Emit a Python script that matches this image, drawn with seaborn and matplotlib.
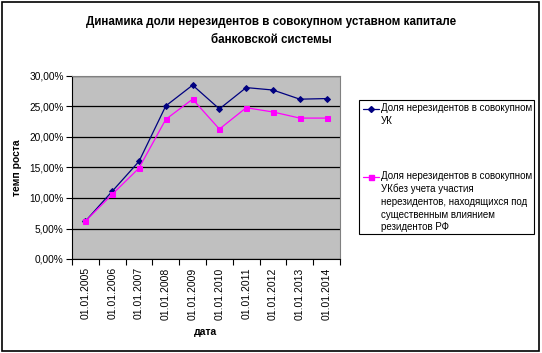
import numpy as np
import pandas as pd
import seaborn as sns
import matplotlib.pyplot as plt
from matplotlib.lines import Line2D
from matplotlib.ticker import FuncFormatter, FixedLocator

dates = ["01.01.2005", "01.01.2006", "01.01.2007", "01.01.2008", "01.01.2009",
         "01.01.2010", "01.01.2011", "01.01.2012", "01.01.2013", "01.01.2014"]
share_total = [6.2, 11.1, 16.0, 25.1, 28.5, 24.6, 28.1, 27.7, 26.2, 26.3]
share_excl = [6.2, 10.6, 14.9, 22.9, 26.2, 21.3, 24.8, 24.1, 23.1, 23.1]

label_total = "Доля нерезидентов в совокупном\nУК"
label_excl = ("Доля нерезидентов в совокупном\nУКбез учета участия\n"
              "нерезидентов, находящихся под\nсущественным влиянием\nрезидентов РФ")

sns.set_style("white")
plt.rcParams['font.family'] = ['Liberation Sans', 'DejaVu Sans']
plt.rcParams['text.color'] = 'black'
plt.rcParams['axes.labelcolor'] = 'black'
plt.rcParams['xtick.color'] = 'black'
plt.rcParams['ytick.color'] = 'black'

W, H = 542, 353
pos = np.arange(len(dates))
df = pd.DataFrame({"pos": pos, "total": share_total, "excl": share_excl})

fig = plt.figure(figsize=(5.42, 3.53), dpi=100)
ax = fig.add_axes([72 / W, 1 - 259 / H, 268 / W, 183 / H])
ax.set_facecolor("#C0C0C0")

sns.lineplot(data=df, x="pos", y="total", color="#000080", marker="D", markersize=3,
             markeredgecolor="#000080", linewidth=0.9, ax=ax)
sns.lineplot(data=df, x="pos", y="excl", color="#FF00FF", marker="s", markersize=3.6,
             markeredgecolor="#FF00FF", linewidth=0.9, ax=ax)

ax.set_xlim(-0.5, len(dates) - 0.5)
ax.set_ylim(0, 30)
ax.set_yticks(np.arange(0, 31, 5))
ax.yaxis.set_major_formatter(FuncFormatter(lambda v, p: ("%.2f%%" % v).replace(".", ",")))
ax.grid(axis="y", color="black", linewidth=0.9)
ax.set_axisbelow(True)

ax.xaxis.set_major_locator(FixedLocator(np.arange(-0.5, len(dates), 1)))
ax.xaxis.set_major_formatter(FuncFormatter(lambda v, p: ""))
ax.xaxis.set_minor_locator(FixedLocator(pos))
ax.set_xticklabels(dates, minor=True, rotation=90, fontsize=7.5)
ax.tick_params(axis="x", which="minor", length=0, pad=6)
ax.tick_params(axis="x", which="major", length=4, width=0.8, direction="out", bottom=True)
ax.tick_params(axis="y", length=4, width=0.8, direction="out", left=True, labelsize=7.3, pad=2)

for s in ["top", "right"]:
    ax.spines[s].set_color("#808080")
for s in ["left", "bottom"]:
    ax.spines[s].set_color("black")
for s in ax.spines.values():
    s.set_linewidth(0.8)

ax.set_xlabel("дата", fontsize=7.5, fontweight="bold", labelpad=5)
ax.set_ylabel("темп роста", fontsize=7.5, fontweight="bold", labelpad=5)

fig.suptitle("Динамика доли нерезидентов в совокупном уставном капитале\nбанковской системы",
             x=0.5, y=1 - 16 / H, fontsize=8.4, fontweight="bold", linespacing=1.65)

# legend box drawn like the Excel one
fig.patches.append(plt.Rectangle((359 / W, 1 - 234 / H), 175 / W, 134 / H, transform=fig.transFigure,
                                 fill=True, facecolor="white", edgecolor="black", linewidth=0.8))
entries = [(label_total, "#000080", "D", 3, 109), (label_excl, "#FF00FF", "s", 3.6, 177)]
for text, col, mk, ms, yc in entries:
    fig.add_artist(Line2D([363 / W, 379 / W], [1 - yc / H, 1 - yc / H], transform=fig.transFigure,
                          color=col, linewidth=0.9))
    fig.add_artist(Line2D([371 / W], [1 - yc / H], transform=fig.transFigure,
                          color=col, marker=mk, markersize=ms, markeredgecolor=col))
    fig.text(381 / W, 1 - (yc - 6) / H, text, fontsize=7, va="top", ha="left", linespacing=1.33)

fig.patches.append(plt.Rectangle((0.004, 0.006), 0.99, 0.988, transform=fig.transFigure,
                                 fill=False, edgecolor="black", linewidth=1.2))

fig.savefig("out.png", dpi=100)
